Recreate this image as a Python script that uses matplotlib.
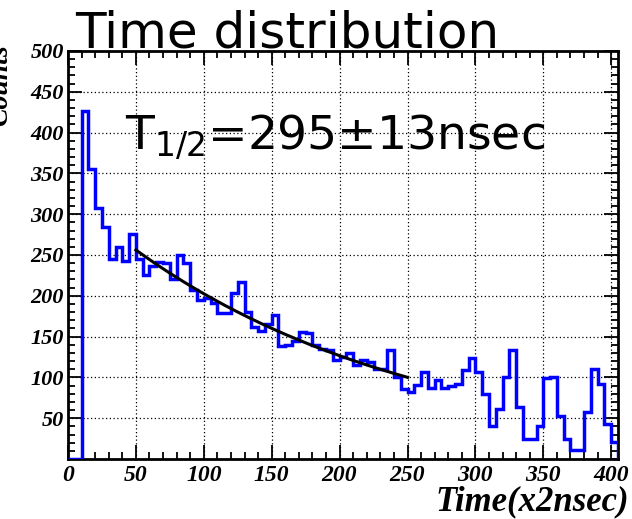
import numpy as np
import matplotlib
matplotlib.use('Agg')
import matplotlib.pyplot as plt
from matplotlib.ticker import MultipleLocator, FixedLocator

# Histogram: counts per 5-unit bin, starting at 0 (x in units of 2 nsec)
bin_width = 5
counts = [
    0, 0, 426, 356, 308, 284, 245, 260, 243, 276,      # 0 - 50
    245, 226, 236, 241, 240, 220, 250, 240, 207, 195,  # 50 - 100
    197, 191, 179, 179, 203, 217, 180, 162, 157, 165,  # 100 - 150
    176, 138, 140, 144, 156, 155, 140, 135, 133, 121,  # 150 - 200
    125, 130, 115, 121, 119, 110, 110, 133, 101, 86,   # 200 - 250
    82, 91, 107, 87, 97, 87, 90, 92, 109, 124,         # 250 - 300
    107, 80, 40, 61, 101, 134, 64, 25, 25, 41,         # 300 - 350
    99, 100, 53, 25, 11, 11, 58, 110, 92, 43,          # 350 - 400
    21,                                                # 400 - 405
]

# Exponential fit shown on the plot
fit_start = 50
fit_stop = 250
fit_amplitude = 324.0
fit_half_life = 147.5   # x2nsec units -> 295 nsec

x_ticks = [0, 50, 100, 150, 200, 250, 300, 350, 400]
y_ticks = [50, 100, 150, 200, 250, 300, 350, 400, 450, 500]

title_text = 'Time distribution'
fit_text = r'T$_{1/2}$=295±13nsec'
x_label = 'Time(x2nsec)'
y_label = 'Counts'

fig = plt.figure(figsize=(6.32, 5.19), dpi=100)
ax = fig.add_axes([68 / 632, 1 - 459 / 519, 550 / 632, 408 / 519])

edges = np.arange(len(counts) + 1) * bin_width
ax.stairs(counts, edges, color='#0000ff', linewidth=2.5, zorder=3)

fx = np.linspace(fit_start, fit_stop, 200)
fy = fit_amplitude * np.exp(-np.log(2) * fx / fit_half_life)
ax.plot(fx, fy, color='black', linewidth=2.2, zorder=4)

ax.set_xlim(0, edges[-1])
ax.set_ylim(0, 500)

ax.xaxis.set_major_locator(FixedLocator(x_ticks))
ax.yaxis.set_major_locator(FixedLocator(y_ticks))
ax.xaxis.set_minor_locator(MultipleLocator(10))
ax.yaxis.set_minor_locator(MultipleLocator(10))
ax.tick_params(which='both', direction='in', top=True, right=True, width=1.3, color='black')
ax.tick_params(which='major', length=10)
ax.tick_params(which='minor', length=5)
ax.tick_params(axis='x', pad=4)
ax.tick_params(axis='y', pad=3)

x_tick_font = dict(family='Liberation Serif', weight='bold', style='italic', size=17)
y_tick_font = dict(family='Liberation Serif', weight='bold', style='italic', size=16)
ax.set_xticklabels([str(t) for t in x_ticks], fontdict=x_tick_font)
ax.set_yticklabels([str(t) for t in y_ticks], fontdict=y_tick_font)

ax.grid(True, which='major', color='black', linestyle=(0, (1, 2)), linewidth=0.9)
for s in ax.spines.values():
    s.set_linewidth(2)

fig.text(629 / 632, 1 - 510 / 519, x_label, ha='right', va='baseline',
         family='Liberation Serif', weight='bold', style='italic', size=25)
fig.text(13 / 632, 1 - 85 / 519, y_label, ha='right', va='center', rotation=90,
         family='Liberation Serif', weight='bold', style='italic', size=20)

fig.text(75 / 632, 1 - 47 / 519, title_text, ha='left', va='baseline',
         family='DejaVu Sans', size=36, color='black', zorder=10)
fig.text(125 / 632, 1 - 150 / 519, fit_text, ha='left', va='baseline',
         family='DejaVu Sans', size=34, color='black', zorder=10)

fig.savefig('out.png', dpi=100)
